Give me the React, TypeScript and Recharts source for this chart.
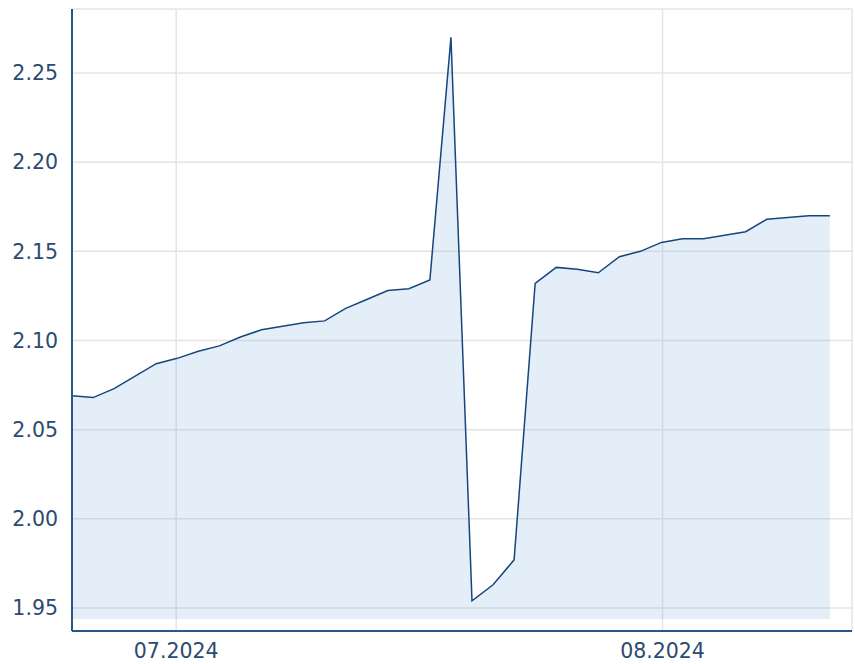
import { Area, AreaChart, CartesianGrid, XAxis, YAxis } from "recharts";

// daily closes (equal spacing per trading day)
const values = [
  2.069, 2.068, 2.073, 2.08, 2.087, 2.09, 2.094, 2.097, 2.102, 2.106, 2.108, 2.11, 2.111,
  2.118, 2.123, 2.128, 2.129, 2.134, 2.27, 1.954, 1.963, 1.977, 2.132, 2.141, 2.14, 2.138,
  2.147, 2.15, 2.155, 2.157, 2.157, 2.159, 2.161, 2.168, 2.169, 2.17, 2.17,
];

const yTicks = [1.95, 2.0, 2.05, 2.1, 2.15, 2.2, 2.25];
const xTicks = [4.95, 28.05];
const xTickLabels = ["07.2024", "08.2024"];

const AXIS = "#2c5687";
const TEXT = "#2c4a72";
const GRID = "#e4e4e4";

const data = values.map((v, i) => ({ i, v }));

const tickStyle = { fill: TEXT, fontSize: 20.5, fontFamily: "DejaVu Sans, Verdana, sans-serif" };

export default function App() {
  return (
    <div style={{ position: "absolute", left: 0, top: 0 }}>
      <AreaChart width={855} height={664} data={data} margin={{ top: 9, right: 3, bottom: 0, left: 0 }}>
        <CartesianGrid stroke={GRID} strokeWidth={1.5} />
        <XAxis
          type="number"
          dataKey="i"
          domain={[0, 37.05]}
          ticks={xTicks}
          tickFormatter={(t: number) => xTickLabels[xTicks.indexOf(t)] ?? ""}
          height={33}
          tickLine={false}
          tickSize={0}
          tickMargin={12}
          axisLine={{ stroke: AXIS, strokeWidth: 2 }}
          tick={tickStyle}
          allowDataOverflow
        />
        <YAxis
          type="number"
          domain={[1.9371, 2.2859]}
          ticks={yTicks}
          tickFormatter={(v: number) => v.toFixed(2)}
          width={72}
          tickLine={false}
          tickSize={0}
          tickMargin={14}
          axisLine={{ stroke: AXIS, strokeWidth: 2 }}
          tick={tickStyle}
          allowDataOverflow
        />
        <Area
          type="linear"
          dataKey="v"
          baseValue={1.9438}
          stroke="#17467d"
          strokeWidth={1.5}
          fill="#7fb2e5"
          fillOpacity={0.22}
          dot={false}
          activeDot={false}
          isAnimationActive={false}
        />
      </AreaChart>
    </div>
  );
}
